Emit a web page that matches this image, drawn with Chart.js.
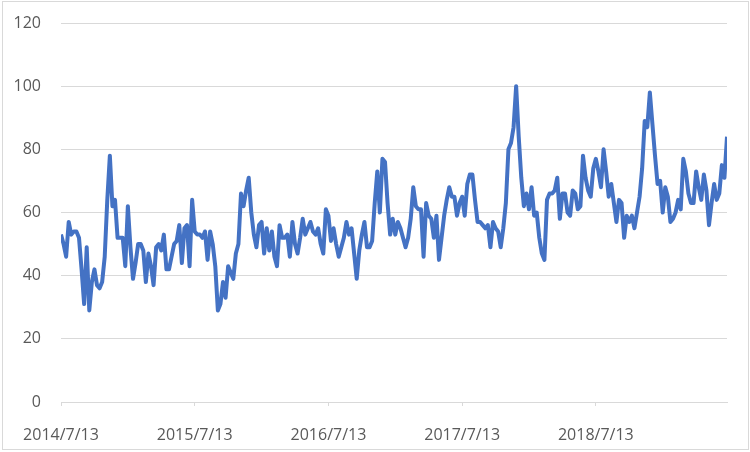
<!DOCTYPE html>
<html>
<head>
<meta charset="utf-8">
<script src="https://cdn.jsdelivr.net/npm/chart.js@4.4.1/dist/chart.umd.min.js"></script>
<style>
    body { margin: 0; background: #fff; }
    #frame { position: absolute; left: 2px; top: 1px; width: 745px; height: 447px; border: 1px solid #d9d9d9; }
    #grafico { position: absolute; left: 0; top: 0; }
</style>
</head>
<body>
<div id="frame"></div>
<canvas id="grafico" width="750" height="452"></canvas>
<script>
// semanas a partir de 2014/7/13
const valores = [
    53, 50, 46, 57, 53, 54, 54, 52, 42, 31,
    49, 29, 38, 42, 37, 36, 38, 46, 64, 78,
    62, 64, 52, 52, 52, 43, 62, 49, 39, 44,
    50, 50, 48, 38, 47, 43, 37,
    49, 50, 48, 53, 42, 42, 46, 50, 51, 56, 44, 55, 56,
    43, 64, 54, 53, 53, 52, 54, 45, 54, 50,
    43, 29, 31, 38, 33, 43, 41, 39, 47, 50, 66, 62, 67, 71,
    60, 53, 49, 56, 57, 47, 55, 48, 54, 46,
    43, 56, 52, 52, 53, 46, 57, 50, 47, 52,
    58, 53, 55, 57, 54, 53, 55, 50, 47, 61, 59, 51, 55, 50, 46, 49,
    52, 57, 53, 55, 47, 39, 48, 53, 57, 49,
    49, 51, 63, 73, 60, 77, 76, 63, 53, 58,
    53, 57, 55, 52, 49, 52, 58, 68, 62, 61,
    61, 46, 63, 59, 58, 52, 59, 45,
    52, 59, 64, 68, 65, 65, 59, 63, 65, 59, 69, 72,
    72, 64, 57, 57, 56, 55, 56, 49, 57, 55,
    54, 49, 55, 63, 80, 82, 87, 100, 84, 71,
    62, 66, 61, 68, 59, 60, 52, 47, 45, 64,
    66, 66, 67, 71, 58, 66, 66, 60, 59, 67,
    66, 61, 62, 78, 71, 67, 65, 74, 77, 73,
    68, 80, 73, 65, 69, 63, 57, 64, 63, 52,
    59, 57, 59, 55, 60, 65, 74, 89, 87, 98,
    88, 78, 69, 70, 60, 68, 65, 57, 58, 60,
    64, 61, 77, 73, 66, 63, 63, 73, 68, 64,
    72, 67, 56, 63, 69, 64, 66, 75, 71, 84
];

// posicao (semana) e texto dos rotulos do eixo x
const semanasRotulo = [0, 52, 104, 156, 208];
const rotulosX = ['2014/7/13', '2015/7/13', '2016/7/13', '2017/7/13', '2018/7/13'];

const ticksY = [0, 20, 40, 60, 80, 100, 120];

const corTexto = '#595959';
const corGrade = '#d9d9d9';
const fonte = { family: "'Open Sans', sans-serif", size: 16 };

function criarGrafico() {
    const ctx = document.getElementById('grafico').getContext('2d');

    new Chart(ctx, {
        type: 'line',
        data: {
            datasets: [{
                data: valores.map((v, i) => ({ x: i, y: v })),
                borderColor: '#4472C4',
                borderWidth: 4,
                pointRadius: 0,
                tension: 0,
                borderJoinStyle: 'round',
                fill: false
            }]
        },
        options: {
            responsive: false,
            animation: false,
            layout: {
                padding: { left: 15, right: 23, top: 23, bottom: 7 }
            },
            plugins: {
                legend: { display: false },
                tooltip: { enabled: false }
            },
            scales: {
                x: {
                    type: 'linear',
                    min: 0,
                    max: valores.length - 1,
                    afterBuildTicks: (axis) => {
                        axis.ticks = semanasRotulo.map(v => ({ value: v }));
                    },
                    afterFit: (s) => {
                        s.height = 43;
                        s.paddingLeft = 0;
                        s.paddingRight = 0;
                    },
                    grid: {
                        drawOnChartArea: false,
                        drawTicks: true,
                        tickLength: 4,
                        color: corGrade
                    },
                    border: { color: corGrade },
                    ticks: {
                        autoSkip: false,
                        maxRotation: 0,
                        padding: 20,
                        color: corTexto,
                        font: fonte,
                        callback: (v) => rotulosX[semanasRotulo.indexOf(v)]
                    }
                },
                y: {
                    min: ticksY[0],
                    max: ticksY[ticksY.length - 1],
                    afterBuildTicks: (axis) => {
                        axis.ticks = ticksY.map(v => ({ value: v }));
                    },
                    afterFit: (s) => {
                        s.width = 46;
                        s.paddingTop = 0;
                        s.paddingBottom = 0;
                    },
                    grid: {
                        color: corGrade,
                        drawTicks: false
                    },
                    border: { display: false },
                    ticks: {
                        padding: 20,
                        color: corTexto,
                        font: fonte
                    }
                }
            }
        }
    });
}

document.addEventListener('DOMContentLoaded', criarGrafico);
</script>
</body>
</html>
